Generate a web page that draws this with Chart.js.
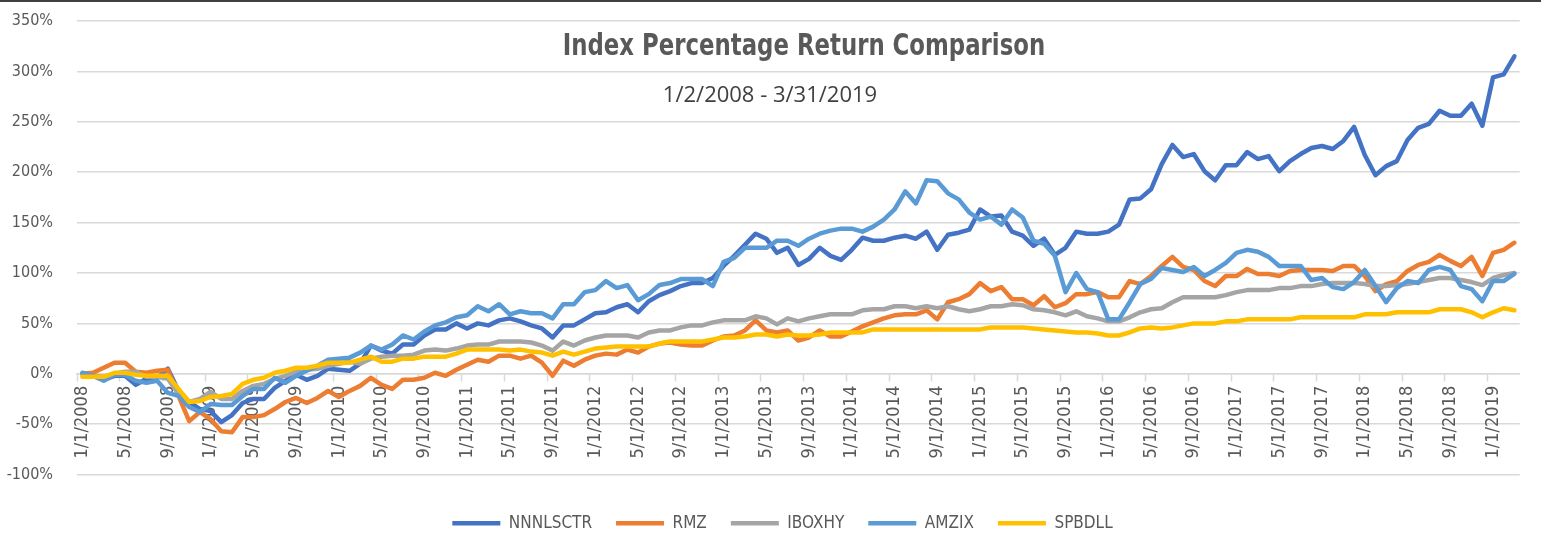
<!DOCTYPE html>
<html>
<head>
<meta charset="utf-8">
<script src="https://cdn.jsdelivr.net/npm/chart.js@4.4.1/dist/chart.umd.min.js"></script>
<style>
  html, body { margin: 0; padding: 0; background: #fff; }
  #wrap { position: relative; width: 1541px; height: 533px; overflow: hidden; }
  #topbar { position: absolute; left: 0; top: 0; width: 1541px; height: 2px; background: #404040; }
  #title { position: absolute; top: 30px; left: 804px; transform: translateX(-50%) scaleX(0.846);
    font: bold 30px/30px 'DejaVu Sans Condensed', sans-serif; color: #595959; white-space: nowrap; }
  #subtitle { position: absolute; top: 82px; left: 770px; transform: translateX(-50%);
    font: 22px/22px 'Open Sans', sans-serif; color: #404040; white-space: nowrap; }
</style>
</head>
<body>
<div id="wrap">
  <canvas id="chart" width="1541" height="533"></canvas>
  <div id="topbar"></div>
  <div id="title">Index Percentage Return Comparison</div>
  <div id="subtitle">1/2/2008 - 3/31/2019</div>
</div>
<script>
// monthly points, Jan 2008 .. Mar 2019 (% return since start)
const months = [];
for (let y = 2008; y <= 2019; y++) {
  for (let m = 1; m <= 12; m++) {
    if (y === 2019 && m > 3) break;
    months.push(m + '/1/' + y);
  }
}

const nnnlsctr = [
  0, -2, -6, -2, -2, -11, -5, -4, 5, -17, -28, -35, -37, -48, -41,
  -29, -25, -25, -14, -7, -1, -6, -2, 5, 4, 3, 10, 28, 23, 20,
  29, 29, 38, 44, 44, 50, 45, 50, 48, 53, 55, 52, 48, 45, 36,
  48, 48, 54, 60, 61, 66, 69, 61, 72, 78, 82, 87, 90, 90, 95,
  107, 117, 128, 139, 134, 120, 125, 108, 114, 125, 117, 113, 123, 135, 132,
  132, 135, 137, 134, 141, 123, 138, 140, 143, 163, 156, 157, 141, 137, 127,
  134, 118, 125, 141, 139, 139, 141, 148, 173, 174, 183, 208, 227, 215, 218,
  201, 192, 207, 207, 220, 213, 216, 201, 211, 218, 224, 226, 223, 231, 245,
  217, 197, 206, 211, 232, 244, 248, 261, 256, 256, 268, 246, 294, 297, 315
];

const rmz = [
  0, 1, 6, 11, 11, 2, 1, 3, 4, -22, -47, -38, -45, -57, -58,
  -43, -43, -41, -35, -28, -24, -29, -24, -17, -23, -17, -12, -4, -11, -15,
  -6, -6, -4, 1, -2, 4, 9, 14, 12, 18, 18, 15, 18, 11, -2,
  13, 8, 14, 18, 20, 19, 24, 21, 27, 30, 31, 29, 28, 28, 33,
  37, 38, 43, 53, 43, 41, 43, 33, 36, 43, 37, 37, 42, 47, 51,
  55, 58, 59, 59, 63, 54, 71, 74, 79, 90, 82, 86, 74, 74, 68,
  77, 66, 70, 79, 79, 81, 76, 76, 92, 89, 97, 107, 116, 106, 103,
  92, 87, 97, 97, 104, 99, 99, 97, 102, 103, 103, 103, 102, 107, 107,
  97, 82, 89, 92, 102, 108, 111, 118, 112, 107, 116, 97, 120, 123, 130
];

const iboxhy = [
  0, -2, -3, 0, 2, 2, -3, -3, -5, -20, -28, -25, -18, -25, -25,
  -17, -12, -10, -5, -2, 2, 4, 5, 8, 10, 12, 10, 15, 17, 18,
  18, 19, 23, 24, 23, 25, 28, 29, 29, 32, 32, 32, 31, 28, 23,
  32, 28, 33, 36, 38, 38, 38, 36, 41, 43, 43, 46, 48, 48, 51,
  53, 53, 53, 57, 55, 49, 55, 52, 55, 57, 59, 59, 59, 63, 64,
  64, 67, 67, 65, 67, 65, 67, 64, 62, 64, 67, 67, 69, 68, 64,
  63, 61, 58, 62, 57, 55, 52, 52, 56, 61, 64, 65, 71, 76, 76,
  76, 76, 78, 81, 83, 83, 83, 85, 85, 87, 87, 89, 90, 90, 90,
  89, 87, 87, 88, 89, 91, 93, 95, 95, 93, 91, 88, 95, 98, 100
];

const amzix = [
  1, -2, -7, -1, -1, -7, -9, -7, -19, -22, -33, -38, -30, -31, -31,
  -22, -15, -15, -4, -9, -2, 3, 8, 14, 15, 16, 21, 28, 24, 29,
  38, 34, 42, 48, 51, 56, 58, 67, 62, 69, 59, 62, 60, 60, 55,
  69, 69, 81, 83, 92, 85, 88, 73, 79, 88, 90, 94, 94, 94, 87,
  111, 115, 125, 125, 125, 132, 132, 127, 134, 139, 142, 144, 144, 141, 146,
  153, 163, 181, 169, 192, 191, 179, 173, 160, 153, 156, 148, 163, 155, 132,
  129, 117, 81, 100, 84, 81, 54, 54, 71, 89, 94, 105, 103, 101, 106,
  97, 103, 110, 120, 123, 121, 116, 107, 107, 107, 93, 95, 86, 84, 91,
  103, 87, 71, 85, 92, 90, 103, 106, 103, 87, 84, 72, 92, 92, 99
];

const spbdll = [
  -3, -3, -3, 1, 1, -1, -2, -2, -2, -15, -28, -27, -23, -22, -20,
  -10, -6, -4, 1, 3, 6, 6, 8, 11, 11, 11, 14, 17, 12, 12,
  15, 15, 17, 17, 17, 20, 24, 24, 24, 24, 23, 24, 22, 21, 18,
  22, 19, 22, 25, 26, 27, 27, 27, 27, 30, 32, 32, 32, 32, 34,
  36, 36, 37, 39, 39, 37, 39, 38, 38, 39, 41, 41, 41, 41, 44,
  44, 44, 44, 44, 44, 44, 44, 44, 44, 44, 46, 46, 46, 46, 45,
  44, 43, 42, 41, 41, 40, 38, 38, 41, 45, 46, 45, 46, 48, 50,
  50, 50, 52, 52, 54, 54, 54, 54, 54, 56, 56, 56, 56, 56, 56,
  59, 59, 59, 61, 61, 61, 61, 64, 64, 64, 61, 56, 61, 65, 63
];

const seriesNames = ['NNNLSCTR', 'RMZ', 'IBOXHY', 'AMZIX', 'SPBDLL'];
const seriesColors = ['#4472C4', '#ED7D31', '#A5A5A5', '#5B9BD5', '#FFC000'];
const yTicks = { min: -116, max: 350, step: 50 };

const gridColor = '#d9d9d9';
const labelColor = '#595959';
const condensed = "'DejaVu Sans Condensed', 'DejaVu Sans', sans-serif";
const legendShift = 14;

function makeDataset(i, values) {
  return {
    label: seriesNames[i],
    data: values,
    borderColor: seriesColors[i],
    backgroundColor: seriesColors[i],
    borderWidth: 4.5,
    pointRadius: 0,
    tension: 0,
    borderJoinStyle: 'round',
    borderCapStyle: 'round',
    // excel draws later series on top
    order: 5 - i
  };
}

// the excel legend row sits a bit right of the canvas centre
const nudgeLegend = {
  id: 'nudgeLegend',
  afterLayout(chart) {
    chart.legend.left += legendShift;
    chart.legend.right += legendShift;
  }
};

new Chart(document.getElementById('chart'), {
  type: 'line',
  data: {
    labels: months,
    datasets: [nnnlsctr, rmz, iboxhy, amzix, spbdll].map((v, i) => makeDataset(i, v))
  },
  plugins: [nudgeLegend],
  options: {
    responsive: false,
    animation: false,
    layout: { padding: { left: 0, right: 4, top: 21, bottom: -8.7 } },
    scales: {
      x: {
        type: 'category',
        offset: true,
        position: { y: 0 },
        grid: {
          offset: true,
          drawOnChartArea: false,
          drawTicks: true,
          tickLength: 7,
          tickWidth: 1.5,
          tickColor: ctx => ctx.index % 4 === 0 ? gridColor : 'rgba(0,0,0,0)'
        },
        border: { color: gridColor, width: 1.5 },
        ticks: {
          autoSkip: false,
          minRotation: 90,
          maxRotation: 90,
          padding: 5,
          color: labelColor,
          font: { family: condensed, size: 18 },
          callback: (v, i) => i % 4 === 0 ? months[i] : ''
        }
      },
      y: {
        min: yTicks.min,
        max: yTicks.max,
        afterFit: s => { s.width = 77; },
        // invisible tick marks keep the labels 24px off the plot
        grid: { color: gridColor, lineWidth: 1.5, drawTicks: true, tickLength: 24, tickColor: 'rgba(0,0,0,0)' },
        border: { display: false },
        ticks: {
          stepSize: yTicks.step,
          includeBounds: false,
          padding: 0,
          color: labelColor,
          font: { family: condensed, size: 16 },
          callback: v => v + '%'
        }
      }
    },
    plugins: {
      legend: {
        position: 'bottom',
        labels: {
          usePointStyle: true,
          pointStyle: 'line',
          pointStyleWidth: 48,
          padding: 24,
          color: labelColor,
          font: { family: condensed, size: 17 },
          sort: (a, b) => a.datasetIndex - b.datasetIndex
        }
      },
      tooltip: { enabled: false }
    }
  }
});
</script>
</body>
</html>
